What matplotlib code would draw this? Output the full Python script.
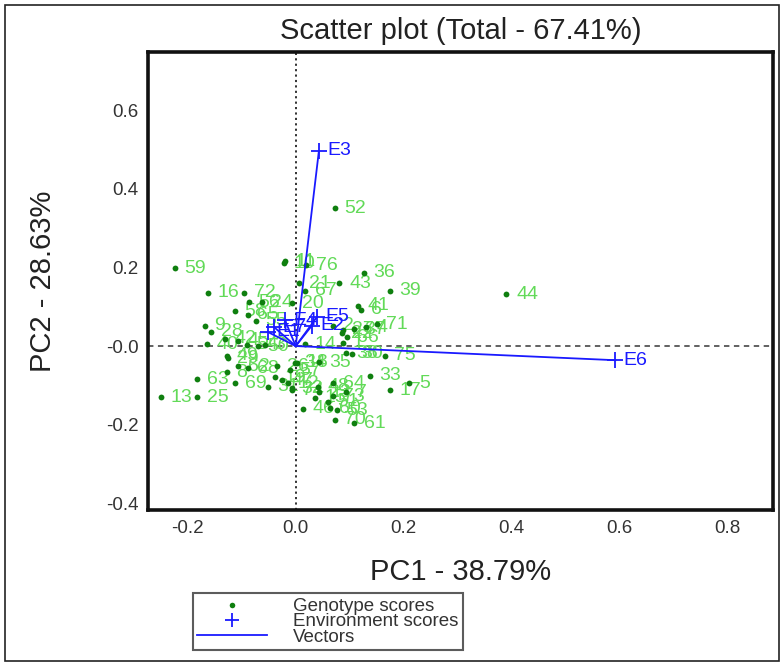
import matplotlib
matplotlib.use("Agg")
import matplotlib.pyplot as plt
from matplotlib.lines import Line2D
from matplotlib.patches import Rectangle

plt.rcParams['font.family'] = ['Liberation Sans', 'DejaVu Sans']

# Genotype scores (PC1, PC2), labelled 1..76
genotype_labels = [str(i) for i in range(1, 77)]
pc1_genotype = [
    0.087, 0.069, -0.057, 0.131, 0.211, 0.122, 0.094, -0.128, -0.169, -0.022,
    -0.019, -0.015, -0.250, 0.017, 0.035, -0.163, 0.174, 0.002, -0.039, -0.007,
    0.007, 0.085, 0.044, -0.063, -0.183, -0.035, 0.087, -0.157, -0.126, 0.104,
    -0.052, -0.007, 0.137, -0.002, 0.044, 0.126, 0.109, 0.094, 0.174, -0.165,
    0.115, -0.131, 0.081, 0.391, -0.107, 0.013, -0.026, 0.041, -0.128, -0.070,
    0.059, 0.072, 0.076, -0.091, -0.074, -0.087, -0.011, -0.113, -0.224, 0.063,
    0.109, -0.107, -0.183, 0.069, -0.089, 0.096, 0.017, -0.089, -0.113, 0.072,
    0.150, -0.096, 0.069, -0.006, 0.165, 0.020,
]
pc2_genotype = [
    0.008, 0.051, 0.003, 0.048, -0.094, 0.092, -0.117, -0.066, 0.051, 0.211,
    0.216, -0.094, -0.130, 0.005, -0.132, 0.135, -0.112, -0.043, -0.079, 0.109,
    0.160, 0.033, -0.117, 0.112, -0.130, -0.051, 0.041, 0.036, -0.031, -0.020,
    -0.104, -0.107, -0.076, -0.043, -0.041, 0.186, 0.043, -0.018, 0.140, 0.005,
    0.102, 0.018, 0.160, 0.132, 0.013, -0.160, -0.087, -0.104, -0.025, 0.000,
    -0.142, 0.351, -0.163, 0.003, 0.064, 0.112, -0.061, 0.089, 0.198, -0.158,
    -0.196, -0.051, -0.084, -0.094, 0.079, 0.023, 0.140, -0.056, -0.094, -0.188,
    0.056, 0.135, -0.127, -0.112, -0.025, 0.206,
]

# Environment scores
env_labels = ['E1', 'E2', 'E3', 'E4', 'E5', 'E6', 'E7']
pc1_env = [-0.052, 0.030, 0.043, -0.020, 0.040, 0.593, -0.040]
pc2_env = [0.036, 0.052, 0.496, 0.066, 0.075, -0.036, 0.048]

xticks = [-0.2, 0.0, 0.2, 0.4, 0.6, 0.8]
xtick_labels = ['-0.2', '0.0', '0.2', '0.4', '0.6', '0.8']
yticks = [0.6, 0.4, 0.2, 0.0, -0.2, -0.4]
ytick_labels = ['0.6', '0.4', '0.2', '-0.0', '-0.2', '-0.4']

DOT_COLOR = '#0f7f0f'
LABEL_COLOR = '#62da58'
ENV_COLOR = '#1a1aff'
TEXT_COLOR = '#222222'

fig = plt.figure(figsize=(7.83, 6.65), dpi=100)
ax = fig.add_axes([0.189, 0.233, 0.798, 0.689])

# reference lines through the origin
ax.axvline(0, color='#222222', linestyle=(0, (1.2, 1.8)), linewidth=1.3, zorder=1)
ax.axhline(0, color='#555555', linestyle=(0, (3, 2.5)), linewidth=1.3, zorder=1)

# genotype points and their labels
ax.plot(pc1_genotype, pc2_genotype, 'o', color=DOT_COLOR, markersize=4.2,
        markeredgewidth=0, zorder=3)
for lab, x, y in zip(genotype_labels, pc1_genotype, pc2_genotype):
    ax.annotate(lab, (x, y), xytext=(7, 0), textcoords='offset points',
                color=LABEL_COLOR, fontsize=14, va='center', ha='left', zorder=2)

# environment vectors
for lab, x, y in zip(env_labels, pc1_env, pc2_env):
    ax.plot([0, x], [0, y], color=ENV_COLOR, linewidth=1.3, zorder=4)
    ax.plot(x, y, '+', color=ENV_COLOR, markersize=11, markeredgewidth=1.3, zorder=5)
    ax.annotate(lab, (x, y), xytext=(6, 0), textcoords='offset points',
                color=ENV_COLOR, fontsize=14, va='center', ha='left', zorder=5)

ax.set_xlim(-0.274, 0.885)
ax.set_ylim(-0.417, 0.748)
ax.set_xticks(xticks)
ax.set_xticklabels(xtick_labels)
ax.set_yticks(yticks)
ax.set_yticklabels(ytick_labels)
ax.tick_params(length=0, labelsize=13.5, labelcolor='#333333')
ax.tick_params(axis='x', pad=7)
ax.tick_params(axis='y', pad=7)
for sp in ax.spines.values():
    sp.set_linewidth(2.6)
    sp.set_color('#111111')

ax.set_title('Scatter plot (Total - 67.41%)', fontsize=21, pad=9, color=TEXT_COLOR)
ax.set_xlabel('PC1 - 38.79%', fontsize=21, color=TEXT_COLOR)
ax.set_ylabel('PC2 - 28.63%', fontsize=21, color=TEXT_COLOR)
ax.xaxis.set_label_coords(0.5, -0.105)
ax.yaxis.set_label_coords(-0.145, 0.5)

handles = [
    Line2D([0], [0], marker='o', color=DOT_COLOR, linestyle='none',
           markersize=4, markeredgewidth=0),
    Line2D([0], [0], marker='+', color=ENV_COLOR, linestyle='none',
           markersize=10, markeredgewidth=1.3),
    Line2D([0], [0], color=ENV_COLOR, linewidth=1.3),
]
leg = fig.legend(handles, ['Genotype scores', 'Environment scores', 'Vectors'],
                 loc='lower left', bbox_to_anchor=(0.246, 0.022),
                 fontsize=13.5, handlelength=3.7, labelspacing=-0.1,
                 handletextpad=1.4, borderpad=0.25, fancybox=False,
                 frameon=True, borderaxespad=0)
leg.get_frame().set_edgecolor('#333333')
leg.get_frame().set_linewidth(1.5)
for t in leg.get_texts():
    t.set_color('#333333')

# thin border round the whole figure
fig.patches.append(Rectangle((0.007, 0.006), 0.988, 0.986, transform=fig.transFigure,
                             fill=False, edgecolor='#222222', linewidth=1.2))

fig.savefig('out.png', dpi=100)
